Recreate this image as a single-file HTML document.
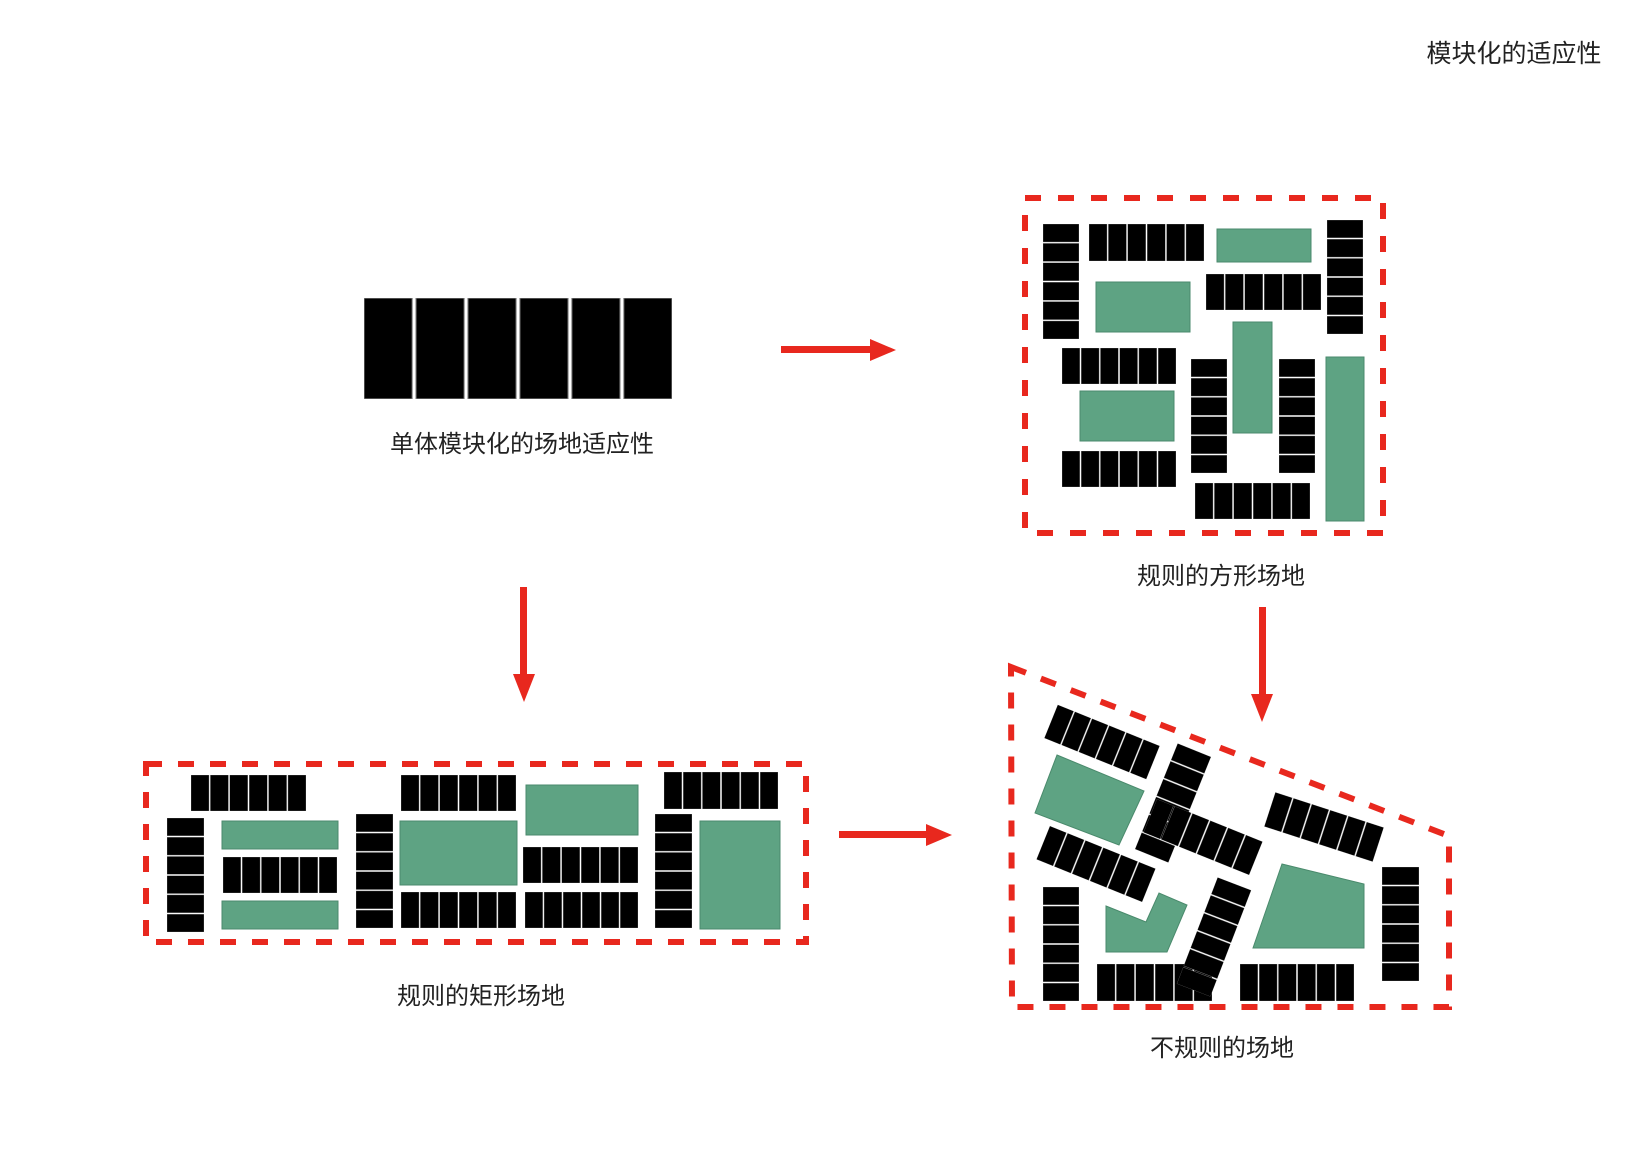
<!DOCTYPE html>
<html><head><meta charset="utf-8"><style>
html,body{margin:0;padding:0;background:#fff}
svg{display:block}
text{font-family:"Liberation Sans","Noto Sans CJK SC",sans-serif;font-size:24px;fill:#222}
</style></head><body>
<svg width="1640" height="1172" viewBox="0 0 1640 1172" xmlns="http://www.w3.org/2000/svg">
<defs>
<symbol id="r" viewBox="0 0 115 36" preserveAspectRatio="none">
<g fill="#000" stroke="#888" stroke-width="0.4">
<rect x="0" y="0" width="18" height="36"/><rect x="19.4" y="0" width="18" height="36"/><rect x="38.8" y="0" width="18" height="36"/><rect x="58.2" y="0" width="18" height="36"/><rect x="77.6" y="0" width="18" height="36"/><rect x="97" y="0" width="18" height="36"/>
</g></symbol>
<symbol id="c" viewBox="0 0 36 115" preserveAspectRatio="none">
<g fill="#000" stroke="#888" stroke-width="0.4">
<rect y="0" x="0" height="18" width="36"/><rect y="19.4" x="0" height="18" width="36"/><rect y="38.8" x="0" height="18" width="36"/><rect y="58.2" x="0" height="18" width="36"/><rect y="77.6" x="0" height="18" width="36"/><rect y="97" x="0" height="18" width="36"/>
</g></symbol>
</defs>

<text x="1514" y="62" text-anchor="middle" style="font-size:25px">模块化的适应性</text>

<!-- single module -->
<use href="#r" x="364" y="298" width="308" height="101"/>
<text x="522" y="452" text-anchor="middle">单体模块化的场地适应性</text>

<!-- arrows -->
<g fill="#e8281e">
<rect x="781" y="346" width="92" height="7"/><polygon points="870,339 896,350 870,361"/>
<rect x="520" y="587" width="7" height="90"/><polygon points="513,674 524,702 535,674"/>
<rect x="839" y="831" width="90" height="7"/><polygon points="926,824 952,835 926,846"/>
<rect x="1259" y="607" width="7" height="90"/><polygon points="1251,694 1262,722 1273,694"/>
</g>

<!-- square site -->
<rect x="1025" y="198" width="358" height="335" fill="none" stroke="#e8281e" stroke-width="6" stroke-dasharray="16 17"/>
<g fill="#5ea383" stroke="#4a8a6c" stroke-width="1">
<rect x="1217" y="229" width="94" height="33"/>
<rect x="1096" y="282" width="94" height="50"/>
<rect x="1233" y="322" width="39" height="111"/>
<rect x="1326" y="357" width="38" height="164"/>
<rect x="1080" y="391" width="94" height="50"/>
</g>
<use href="#c" x="1043" y="224" width="36" height="115"/>
<use href="#r" x="1089" y="224" width="115" height="37"/>
<use href="#c" x="1327" y="220" width="36" height="114"/>
<use href="#r" x="1206" y="274" width="115" height="36"/>
<use href="#r" x="1062" y="348" width="114" height="36"/>
<use href="#c" x="1191" y="359" width="36" height="114"/>
<use href="#c" x="1279" y="359" width="36" height="114"/>
<use href="#r" x="1062" y="451" width="114" height="36"/>
<use href="#r" x="1195" y="483" width="115" height="36"/>
<text x="1221" y="584" text-anchor="middle">规则的方形场地</text>

<!-- rectangular site -->
<rect x="146" y="764" width="660" height="178" fill="none" stroke="#e8281e" stroke-width="6" stroke-dasharray="16 16"/>
<g fill="#5ea383" stroke="#4a8a6c" stroke-width="1">
<rect x="222" y="821" width="116" height="28"/>
<rect x="222" y="901" width="116" height="28"/>
<rect x="400" y="821" width="117" height="64"/>
<rect x="526" y="785" width="112" height="50"/>
<rect x="700" y="821" width="80" height="108"/>
</g>
<use href="#r" x="191" y="775" width="115" height="36"/>
<use href="#c" x="167" y="818" width="37" height="114"/>
<use href="#r" x="223" y="857" width="114" height="36"/>
<use href="#c" x="356" y="814" width="37" height="114"/>
<use href="#r" x="401" y="775" width="115" height="36"/>
<use href="#r" x="401" y="892" width="115" height="36"/>
<use href="#r" x="523" y="847" width="115" height="36"/>
<use href="#r" x="525" y="892" width="113" height="36"/>
<use href="#r" x="664" y="772" width="114" height="37"/>
<use href="#c" x="655" y="814" width="37" height="114"/>
<text x="481" y="1004" text-anchor="middle">规则的矩形场地</text>

<!-- irregular site -->
<polygon points="1011,667 1449,836 1449,1007 1012,1007" fill="none" stroke="#e8281e" stroke-width="6" stroke-dasharray="16 16"/>
<g fill="#5ea383" stroke="#4a8a6c" stroke-width="1">
<polygon points="1057,755 1144,791 1119,845 1035,813"/>
<polygon points="1106,906 1146,922 1159,893 1187,905 1167,952 1106,952"/>
<polygon points="1282,864 1364,884 1364,948 1253,948"/>
</g>
<use href="#c" x="1043" y="887" width="36" height="114"/>
<use href="#r" x="1097" y="964" width="115" height="37"/>
<use href="#r" x="1240" y="964" width="114" height="37"/>
<use href="#c" x="1382" y="867" width="37" height="114"/>
<g transform="translate(1102,742) rotate(22) translate(-55,-18)"><use href="#r" width="110" height="36"/></g>
<g transform="translate(1096,864) rotate(22) translate(-57,-18)"><use href="#r" width="114" height="36"/></g>
<g transform="translate(1173,803) rotate(22) translate(-18,-57)"><use href="#c" width="36" height="114"/></g>
<g transform="translate(1203,837) rotate(22) translate(-57,-18)"><use href="#r" width="114" height="36"/></g>
<g transform="translate(1214,937) rotate(21) translate(-18,-57)"><use href="#c" width="36" height="114"/></g>
<g transform="translate(1324,827) rotate(18) translate(-57,-18)"><use href="#r" width="114" height="36"/></g>
<text x="1222" y="1056" text-anchor="middle">不规则的场地</text>
</svg>
</body></html>
